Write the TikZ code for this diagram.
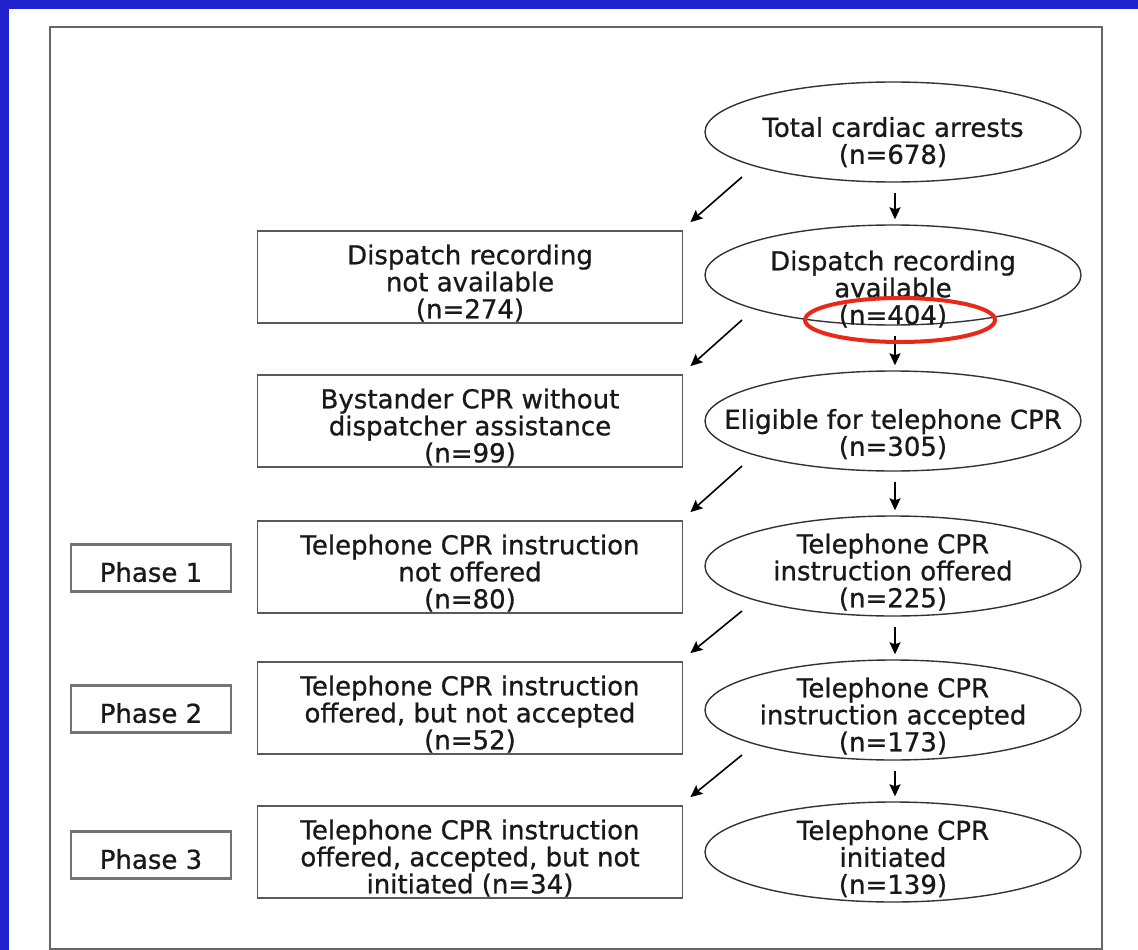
\documentclass[tikz,border=0pt]{standalone}
\usepackage{fontspec}
\setmainfont{DejaVu Sans}[FakeBold=0.8]
\usetikzlibrary{arrows.meta,calc,shapes.geometric}
\definecolor{slideblue}{RGB}{34,34,204}
\definecolor{markred}{RGB}{232,40,24}
% invisible strut on the first line pushes the text block down
\newcommand{\drop}[1][32pt]{\rule{0pt}{#1}}

\begin{document}
\begin{tikzpicture}[x=1pt,y=-1pt,
  every node/.style={font=\fontsize{26}{27}\selectfont, align=center, text=black!90},
  ell/.style={ellipse, draw=black!80, line width=1.4pt, minimum width=376pt, minimum height=100pt,
    inner xsep=-50pt, inner ysep=-20pt},
  box/.style={rectangle, draw=black!65, line width=1.8pt, minimum width=425pt, minimum height=92pt,
    inner sep=0pt, inner ysep=-10pt},
  phasebox/.style={rectangle, draw=black!55, line width=2.4pt, minimum width=160pt, minimum height=47pt,
    inner sep=0pt},
  arr/.style={-{Stealth[length=12pt,width=11pt,inset=2pt]}, line width=1.6pt}]
\useasboundingbox (0,0) rectangle (1138,950);

% slide background and frame
\fill[slideblue] (0,0) rectangle (1138,950);
\fill[white] (9,9) rectangle (1138,950);
\draw[black!60, line width=2.5pt] (50,27) rectangle (1102,949);

% right column
\node[ell] (e1) at (893,132) {\drop[40pt]Total cardiac arrests\\(n=678)};
\node[ell] (e2) at (893,275) {\drop[48pt]Dispatch recording\\available\\(n=404)};
\node[ell] (e3) at (893,421) {\drop[46pt]Eligible for telephone CPR\\(n=305)};
\node[ell] (e4) at (893,566) {\drop Telephone CPR\\instruction offered\\(n=225)};
\node[ell] (e5) at (893,710) {\drop Telephone CPR\\instruction accepted\\(n=173)};
\node[ell] (e6) at (893,852) {\drop[33pt]Telephone CPR\\initiated\\(n=139)};

% excluded
\node[box] (r1) at (470,277) {\drop Dispatch recording\\not available\\(n=274)};
\node[box] (r2) at (470,421) {\drop Bystander CPR without\\dispatcher assistance\\(n=99)};
\node[box] (r3) at (470,567) {\drop Telephone CPR instruction\\not offered\\(n=80)};
\node[box] (r4) at (470,708) {\drop Telephone CPR instruction\\offered, but not accepted\\(n=52)};
\node[box] (r5) at (470,852) {\drop Telephone CPR instruction\\offered, accepted, but not\\initiated (n=34)};

\node[phasebox] (p1) at (151,568) {\drop[28pt]Phase 1};
\node[phasebox] (p2) at (151,709) {\drop[28pt]Phase 2};
\node[phasebox] (p3) at (151,855) {\drop[28pt]Phase 3};

\foreach \a/\b in {e1/e2,e2/e3,e3/e4,e4/e5,e5/e6}
  \draw[arr, shorten <=10pt, shorten >=5pt] ([xshift=2pt]\a.south) -- ([xshift=2pt]\b.north);
\foreach \a/\b in {e1/r1,e2/r2,e3/r3,e4/r4,e5/r5}
  \draw[arr] ($(\a.center)+(-151,45)$) -- ($(\b.north east)+(7,-8)$);

\draw[markred, line width=4pt] (900,320) ellipse [x radius=95pt, y radius=22pt];
\end{tikzpicture}
\end{document}
